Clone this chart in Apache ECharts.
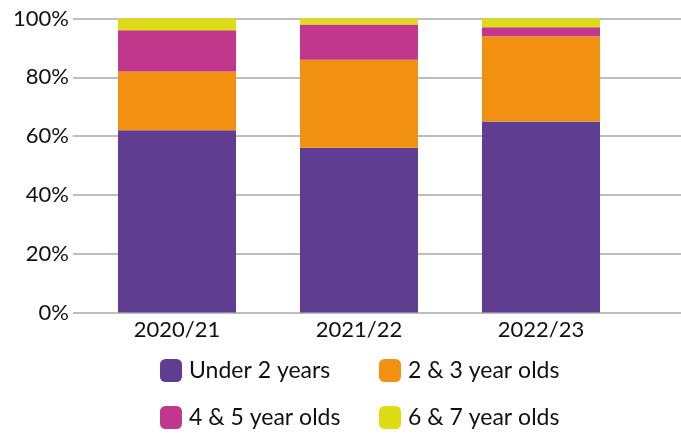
<!DOCTYPE html>
<html>
<head>
<meta charset="utf-8">
<script src="https://cdn.jsdelivr.net/npm/echarts@6/dist/echarts.min.js"></script>
<style>
html,body{margin:0;padding:0;background:#fff;}
#chart{width:681px;height:437px;}
</style>
</head>
<body>
<div id="chart"></div>
<script>
const categories = ['2020/21', '2021/22', '2022/23'];
const under2 = [62, 56, 65];
const age2and3 = [20, 30, 29];
const age4and5 = [14, 12, 3];
const age6and7 = [4, 2, 3];
const yTicks = [0, 20, 40, 60, 80, 100];

const seriesNames = ['Under 2 years', '2 & 3 year olds', '4 & 5 year olds', '6 & 7 year olds'];
const seriesData = [under2, age2and3, age4and5, age6and7];
const colors = ['#5f3e91', '#f29111', '#c1378b', '#dedc14'];

const FONT = 'Lato';
const chart = echarts.init(document.getElementById('chart'));

const legendPos = [[160, 359], [379, 359], [160, 406], [379, 406]];

chart.setOption({
  animation: false,
  textStyle: { fontFamily: FONT },
  grid: [
    { left: 73, right: 0, top: 18.5, bottom: 124.5 },
    { left: 86, right: 49, top: 18.5, bottom: 124.5 }
  ],
  xAxis: [
    { gridIndex: 0, type: 'value', min: 0, max: 1, show: false },
    {
      gridIndex: 1, type: 'category', data: categories,
      axisLine: { show: false }, axisTick: { show: false },
      axisLabel: { color: '#111', fontSize: 22, fontFamily: FONT, margin: 6 }
    }
  ],
  yAxis: [
    {
      gridIndex: 0, type: 'value', min: yTicks[0], max: yTicks[yTicks.length - 1], interval: 20,
      axisLine: { show: false }, axisTick: { show: false },
      axisLabel: { formatter: '{value}%', color: '#111', fontSize: 22, fontFamily: FONT, margin: 4 },
      splitLine: { lineStyle: { color: '#a8a8a8', width: 1.5 } }
    },
    { gridIndex: 1, type: 'value', min: 0, max: 100, show: false, splitLine: { show: false } }
  ],
  legend: legendPos.map((p, i) => ({
    data: [seriesNames[i]],
    left: p[0], top: p[1],
    padding: 0,
    icon: 'roundRect',
    itemWidth: 22, itemHeight: 23,
    itemGap: 0,
    textStyle: { color: '#111', fontSize: 23, fontFamily: FONT, padding: [0, 0, 0, 2] }
  })),
  series: seriesNames.map((name, i) => ({
    name: name,
    type: 'bar',
    stack: 'total',
    xAxisIndex: 1, yAxisIndex: 1,
    barWidth: 118,
    data: seriesData[i],
    itemStyle: { color: colors[i] }
  }))
});
</script>
</body>
</html>
